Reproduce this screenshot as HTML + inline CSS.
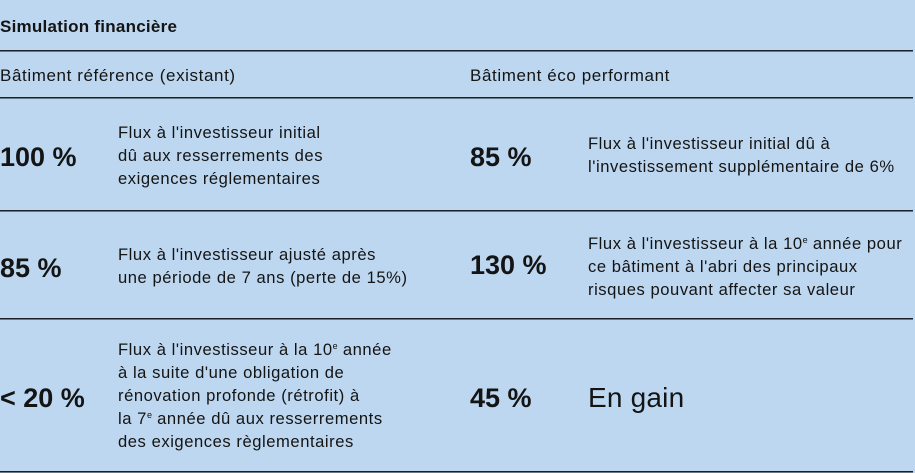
<!DOCTYPE html>
<html><head><meta charset="utf-8"><style>
html,body{margin:0;padding:0;}
body{width:915px;height:473px;background:#bdd7f0;position:relative;overflow:hidden;font-family:"Liberation Sans",sans-serif;color:#141414;}
.t{position:absolute;white-space:nowrap;}
.d{font-size:16.6px;line-height:23px;letter-spacing:0.55px;}
.h{font-size:17px;line-height:23px;letter-spacing:0.6px;}
.n{font-size:27px;line-height:27px;font-weight:bold;letter-spacing:0px;}
.ln{position:absolute;left:0;width:913px;height:2px;background:linear-gradient(#1c2129 0 50%,#6a7886 50% 100%);}
sup{font-size:9px;line-height:0;vertical-align:baseline;position:relative;top:-6px;letter-spacing:0;}
</style></head><body>
<div class="t" style="left:0;top:15px;font-size:17px;line-height:23px;font-weight:bold;letter-spacing:0.25px;">Simulation financière</div>
<div class="ln" style="top:50px"></div>
<div class="t h" style="left:0;top:64px;">Bâtiment référence (existant)</div>
<div class="t h" style="left:470px;top:64px;">Bâtiment éco performant</div>
<div class="ln" style="top:97px"></div>

<div class="t n" style="left:0;top:144px;">100 %</div>
<div class="t d" style="left:118px;top:121px;">Flux à l'investisseur initial<br>dû aux resserrements des<br>exigences réglementaires</div>
<div class="t n" style="left:470px;top:144px;">85 %</div>
<div class="t d" style="left:588px;top:132px;">Flux à l'investisseur initial dû à<br>l'investissement supplémentaire de 6%</div>
<div class="ln" style="top:210px"></div>

<div class="t n" style="left:0;top:255px;">85 %</div>
<div class="t d" style="left:118px;top:243px;">Flux à l'investisseur ajusté après<br>une période de 7 ans (perte de 15%)</div>
<div class="t n" style="left:470px;top:252px;">130 %</div>
<div class="t d" style="left:588px;top:231.5px;">Flux à l'investisseur à la 10<sup>e</sup> année pour<br>ce bâtiment à l'abri des principaux<br>risques pouvant affecter sa valeur</div>
<div class="ln" style="top:318px"></div>

<div class="t n" style="left:0;top:385px;">&lt; 20 %</div>
<div class="t d" style="left:118px;top:338px;">Flux à l'investisseur à la 10<sup>e</sup> année<br>à la suite d'une obligation de<br>rénovation profonde (rétrofit) à<br>la 7<sup>e</sup> année dû aux resserrements<br>des exigences règlementaires</div>
<div class="t n" style="left:470px;top:385px;">45 %</div>
<div class="t" style="left:588px;top:384px;font-size:28px;line-height:28px;letter-spacing:0.2px;">En gain</div>
<div class="ln" style="top:471px"></div>
</body></html>
